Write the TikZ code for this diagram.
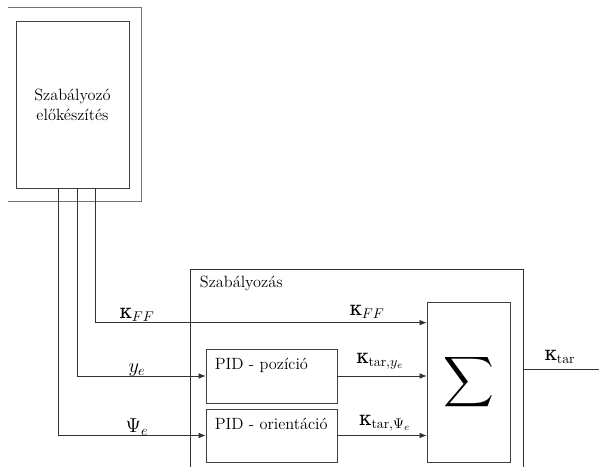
\documentclass[tikz,border=0pt]{standalone}
\usepackage{amsmath,amssymb}
\usepackage{fontspec}
\usepackage{xcolor}
\usepackage{tikz}
\usetikzlibrary{arrows.meta,positioning,calc}
\newfontfamily\greekfont{DejaVu Serif}
\newcommand{\kap}{\text{\greekfont κ}}

\begin{document}
\begin{tikzpicture}[
  x=0.025cm, y=-0.025cm,
  blk/.style={rectangle, draw=black!75, line width=0.5pt, inner sep=0pt},
  lbl/.style={font=\fontsize{14}{17}\selectfont, inner sep=1pt},
  txt/.style={font=\fontsize{11.6}{14}\selectfont, align=center},
  arr/.style={-{Latex[length=5pt,width=4pt]}, black!80, line width=0.5pt},
  ln/.style={black!80, line width=0.5pt}
]
\useasboundingbox (0,0) rectangle (599,467);

% Top left: preparation
\draw[ln, black!55] (8,7) -- (141,7) -- (141,201) -- (8,201);
\node[blk, minimum width=113*0.025cm, minimum height=167*0.025cm] (prep)
  at (72.5,104.5) {};
\node[txt] at (prep.center) {Szabályozó\\előkészítés};

% Controller frame
\draw[ln] (190,467) -- (190,269) -- (523,269) -- (523,467);
\node[txt, anchor=west] (ctl) at (195,283) {Szabályozás};

\node[blk, minimum width=131*0.025cm, minimum height=54*0.025cm] (pidpos)
  at (271.5,376) {};
\node[txt, anchor=north west] at ([xshift=3pt,yshift=-3pt]pidpos.north west) {PID - pozíció};
\node[blk, minimum width=131*0.025cm, minimum height=53*0.025cm] (pidor)
  at (271.5,435.5) {};
\node[txt, anchor=north west] at ([xshift=3pt,yshift=-3pt]pidor.north west) {PID - orientáció};

\node[blk, minimum width=83*0.025cm, minimum height=160*0.025cm] (sum)
  at (468.5,382) {\scalebox{2.5}{$\displaystyle\sum$}};

% Signals from preparation
\draw[arr] ([xshift=80*0.025cm]prep.south west) |- ([yshift=-21*0.025cm]sum.north west);
\draw[arr] ([xshift=62*0.025cm]prep.south west) |- (pidpos.west);
\draw[arr] ([xshift=43*0.025cm]prep.south west) |- (pidor.west);

% PID outputs
\draw[arr] (pidpos.east) -- (pidpos.east -| sum.west);
\draw[arr] (pidor.east) -- (pidor.east -| sum.west);

% Output
\coordinate (out) at (599,369);
\draw[ln] (523,369) -- (out);

% Labels
\node[lbl] at (137,315) {$\kap_{FF}$};
\node[lbl] at (367,312) {$\kap_{FF}$};
\node[lbl] at (137,370) {$y_e$};
\node[lbl] at (137,427) {$\Psi_e$};
\node[lbl] at (380,361) {$\kap_{\mathrm{tar},y_e}$};
\node[lbl] at (385,423) {$\kap_{\mathrm{tar},\Psi_e}$};
\node[lbl] at (560,357) {$\kap_{\mathrm{tar}}$};

\end{tikzpicture}
\end{document}
